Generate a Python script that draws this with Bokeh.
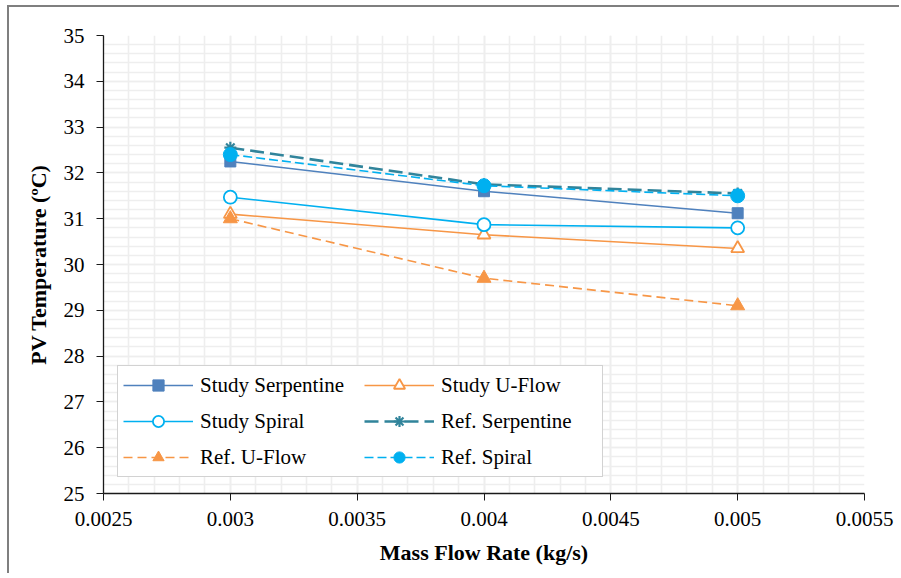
from bokeh.plotting import figure
from bokeh.models import Range1d, FixedTicker, Legend, LegendItem
from bokeh.embed import file_html
from bokeh.resources import INLINE

flow = [0.003, 0.004, 0.005]
study_serpentine = [32.25, 31.6, 31.12]
study_uflow = [31.1, 30.65, 30.35]
study_spiral = [31.47, 30.87, 30.8]
ref_serpentine = [32.55, 31.75, 31.55]
ref_uflow = [31.0, 29.7, 29.1]
ref_spiral = [32.4, 31.72, 31.5]

x_ticks = [0.0025, 0.003, 0.0035, 0.004, 0.0045, 0.005, 0.0055]
x_tick_labels = ["0.0025", "0.003", "0.0035", "0.004", "0.0045", "0.005", "0.0055"]
y_ticks = [25, 26, 27, 28, 29, 30, 31, 32, 33, 34, 35]
x_minor = [round(0.0025 + i * 0.0001, 4) for i in range(31)]
y_minor = [round(25 + i * 0.2, 1) for i in range(51)]

FONT = "Liberation Serif"

p = figure(width=892, height=568, output_backend="svg", toolbar_location=None,
           x_range=Range1d(0.0025, 0.0055), y_range=Range1d(25, 35),
           min_border_left=94, min_border_right=37, min_border_top=28, min_border_bottom=82)
p.styles = {"margin-left": "7px", "margin-top": "5px",
            "border-top": "2px solid #7f7f7f", "border-left": "2px solid #7f7f7f"}
p.outline_line_color = None
p.background_fill_color = "white"

p.xaxis.ticker = FixedTicker(ticks=x_ticks, minor_ticks=x_minor)
p.yaxis.ticker = FixedTicker(ticks=y_ticks, minor_ticks=y_minor)
p.xaxis.major_label_overrides = {t: l for t, l in zip(x_ticks, x_tick_labels)}

for ax in (p.xaxis[0], p.yaxis[0]):
    ax.axis_line_color = "#1a1a1a"
    ax.axis_line_width = 1.3
    ax.major_tick_line_color = "#1a1a1a"
    ax.major_tick_out = 7
    ax.major_tick_in = 0
    ax.minor_tick_line_color = None
    ax.major_label_text_font = FONT
    ax.major_label_text_font_size = "21px"
    ax.major_label_text_color = "black"
    ax.axis_label_text_font = FONT
    ax.axis_label_text_font_style = "bold"
    ax.axis_label_text_font_size = "22px"
    ax.axis_label_text_color = "black"

p.xaxis.axis_label = "Mass Flow Rate (kg/s)"
p.yaxis.axis_label = "PV Temperature (ºC)"
p.xaxis.axis_label_standoff = 11
p.yaxis.axis_label_standoff = 10
p.xaxis.major_label_standoff = 11
p.yaxis.major_label_standoff = 12

for g in (p.xgrid, p.ygrid):
    g.grid_line_color = "#eeeeee"
    g.grid_line_width = 1.6
    g.minor_grid_line_color = "#eeeeee"
    g.minor_grid_line_width = 1.6

BLUE = "#4f81bd"
ORANGE = "#f79646"
CYAN = "#00b0f0"
TEAL = "#31849b"

l1 = p.line(flow, study_serpentine, line_color=BLUE, line_width=1.6)
m1 = p.scatter(flow, study_serpentine, marker="square", size=11, fill_color=BLUE, line_color=BLUE)
l2 = p.line(flow, study_uflow, line_color=ORANGE, line_width=1.6)
m2 = p.scatter(flow, study_uflow, marker="triangle", size=13, fill_color="white", line_color=ORANGE, line_width=1.8)
l3 = p.line(flow, study_spiral, line_color=CYAN, line_width=1.6)
m3 = p.scatter(flow, study_spiral, marker="circle", size=13, fill_color="white", line_color=CYAN, line_width=1.8)
l4 = p.line(flow, ref_serpentine, line_color=TEAL, line_width=2.6, line_dash="14 6")
m4 = p.scatter(flow, ref_serpentine, marker="asterisk", size=12, line_color=TEAL, line_width=2.2)
l5 = p.line(flow, ref_uflow, line_color=ORANGE, line_width=1.6, line_dash="9 5")
m5 = p.scatter(flow, ref_uflow, marker="triangle", size=14, fill_color=ORANGE, line_color=ORANGE)
l6 = p.line(flow, ref_spiral, line_color=CYAN, line_width=1.6, line_dash="9 4")
m6 = p.scatter(flow, ref_spiral, marker="circle", size=14, fill_color=CYAN, line_color=CYAN)

names = ["Study Serpentine", "Study U-Flow", "Study Spiral", "Ref. Serpentine", "Ref. U-Flow", "Ref. Spiral"]
pairs = [(l1, m1), (l2, m2), (l3, m3), (l4, m4), (l5, m5), (l6, m6)]
items = [LegendItem(label=n, renderers=list(r)) for n, r in zip(names, pairs)]

legend = Legend(items=items, location=(14, 16), orientation="horizontal", ncols=2,
                label_text_font=FONT, label_text_font_size="21px", label_text_color="black",
                glyph_width=70, glyph_height=28, label_standoff=7, spacing=8,
                padding=5, margin=0, border_line_color="#a6a6a6", border_line_width=1.5,
                background_fill_alpha=1.0, label_height=28, label_width=156)
p.add_layout(legend, "center")

open("out.html", "w").write(file_html(p, INLINE))
